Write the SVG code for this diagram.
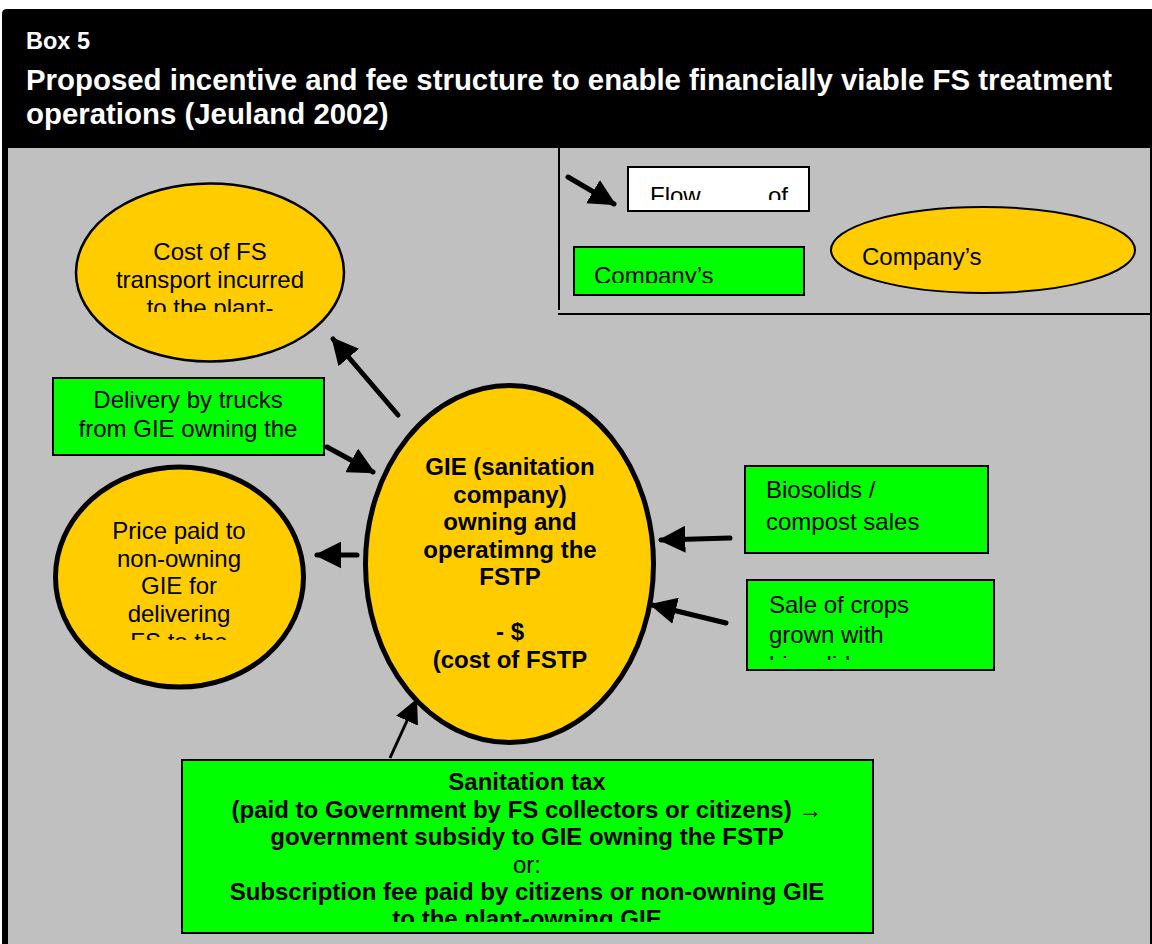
<svg xmlns="http://www.w3.org/2000/svg" width="1152" height="944" viewBox="0 0 1152 944">
<style>
text{font-family:"Liberation Sans",Arial,sans-serif;font-size:24px;fill:#000}
.b{font-weight:bold}
.w{fill:#fff;font-weight:bold}
.t{font-size:29.4px}
.c{text-anchor:middle}
.box{stroke:#000;stroke-width:2}
.g{fill:#00ff00}
.y{fill:#ffcc00}
.arr{stroke:#000;stroke-width:5;stroke-linecap:round;fill:none}
</style>
<defs>
<marker id="ah" viewBox="0 0 10 10" refX="9" refY="5" markerWidth="5.4" markerHeight="5.4" orient="auto" markerUnits="strokeWidth"><path d="M0,0 L10,5 L0,10 Z" fill="#000"/></marker>
<marker id="ah2" viewBox="0 0 10 10" refX="9" refY="5" markerWidth="8" markerHeight="8" orient="auto" markerUnits="strokeWidth"><path d="M0,0 L10,5 L0,10 Z" fill="#000"/></marker>
<clipPath id="cFlow"><rect x="628" y="167" width="182" height="33"/></clipPath>
<clipPath id="cComp"><rect x="574" y="247" width="231" height="36"/></clipPath>
<clipPath id="cCost"><rect x="60" y="200" width="300" height="112"/></clipPath>
<clipPath id="cPrice"><rect x="50" y="480" width="260" height="160"/></clipPath>
<clipPath id="cSale"><rect x="747" y="580" width="247" height="80"/></clipPath>
<clipPath id="cTax"><rect x="182" y="760" width="691" height="162"/></clipPath>
</defs>
<rect x="0" y="0" width="1152" height="944" fill="#fff"/>
<path d="M2,14 Q2,9 7,9 L1152,9 L1152,944 L2,944 Z" fill="#000"/>
<rect x="8" y="148" width="1142" height="796" fill="#c0c0c0"/>
<g id="title">
<text x="26" y="49" class="w" style="font-size:23.5px">Box 5</text>
<text x="26" y="90" class="w t">Proposed incentive and fee structure to enable financially viable FS treatment</text>
<text x="26" y="124" class="w t">operations (Jeuland 2002)</text>
</g>
<g id="legend">
<path d="M559,148 L559,310 M558,314 L1152,314" stroke="#000" stroke-width="2" fill="none"/>
<line x1="568" y1="177" x2="614" y2="204" class="arr" marker-end="url(#ah)"/>
<rect x="628" y="167" width="181" height="44" fill="#fff" class="box"/>
<g clip-path="url(#cFlow)"><text x="650" y="204">Flow</text><text x="768" y="204">of</text></g>
<rect x="574" y="247" width="230" height="48" class="g box"/>
<g clip-path="url(#cComp)"><text x="594" y="284">Company’s</text></g>
<ellipse cx="983" cy="250" rx="152" ry="43" class="y box"/>
<text x="862" y="265">Company’s</text>
</g>
<g id="cost">
<ellipse cx="210" cy="272.5" rx="134" ry="89" class="y" stroke="#000" stroke-width="2.5"/>
<g clip-path="url(#cCost)"><text x="210" y="260" class="c">Cost of FS</text><text x="210" y="288" class="c">transport incurred</text><text x="210" y="316" class="c">to the plant-</text></g>
</g>
<g id="delivery">
<rect x="53" y="378" width="271" height="77" class="g box"/>
<text x="188" y="408" class="c">Delivery by trucks</text>
<text x="188" y="437" class="c">from GIE owning the</text>
</g>
<g id="price">
<ellipse cx="179.5" cy="577" rx="124" ry="110" class="y" stroke="#000" stroke-width="5"/>
<g clip-path="url(#cPrice)"><text x="179" y="539" class="c">Price paid to</text><text x="179" y="567" class="c">non-owning</text><text x="179" y="594" class="c">GIE for</text><text x="179" y="622" class="c">delivering</text><text x="179" y="650" class="c">FS to the</text></g>
</g>
<g id="gie">
<ellipse cx="509.5" cy="564" rx="144" ry="178.5" class="y" stroke="#000" stroke-width="5"/>
<text x="510" y="475" class="b c">GIE (sanitation</text>
<text x="510" y="503" class="b c">company)</text>
<text x="510" y="530" class="b c">owning and</text>
<text x="510" y="558" class="b c">operatimng the</text>
<text x="510" y="585" class="b c">FSTP</text>
<text x="510" y="640" class="b c">- $</text>
<text x="510" y="668" class="b c">(cost of FSTP</text>
</g>
<g id="biosolids">
<rect x="745" y="466" width="243" height="87" class="g box"/>
<text x="766" y="498">Biosolids /</text>
<text x="766" y="530">compost sales</text>
</g>
<g id="crops">
<rect x="747" y="580" width="247" height="90" class="g box"/>
<g clip-path="url(#cSale)"><text x="769" y="613">Sale of crops</text><text x="769" y="643">grown with</text><text x="769" y="673">biosolids</text></g>
</g>
<g id="tax">
<rect x="182" y="760" width="691" height="173" class="g box"/>
<g clip-path="url(#cTax)">
<text x="527" y="790" class="b c">Sanitation tax</text>
<text x="527" y="818" class="b c">(paid to Government by FS collectors or citizens) →</text>
<text x="527" y="845" class="b c">government subsidy to GIE owning the FSTP</text>
<text x="527" y="873" class="c">or:</text>
<text x="527" y="900" class="b c">Subscription fee paid by citizens or non-owning GIE</text>
<text x="527" y="927" class="b c">to the plant-owning GIE</text>
</g>
</g>
<g id="connectors">
<line x1="398" y1="415" x2="333" y2="339" class="arr" marker-end="url(#ah)"/>
<line x1="327" y1="447" x2="373" y2="472" class="arr" marker-end="url(#ah)"/>
<line x1="357" y1="555" x2="317" y2="555" class="arr" marker-end="url(#ah)"/>
<line x1="730" y1="538" x2="661" y2="540" class="arr" marker-end="url(#ah)"/>
<line x1="726" y1="623" x2="652" y2="605" class="arr" marker-end="url(#ah)"/>
<line x1="390" y1="758" x2="416" y2="701" stroke="#000" stroke-width="3" marker-end="url(#ah2)"/>
</g>
</svg>
